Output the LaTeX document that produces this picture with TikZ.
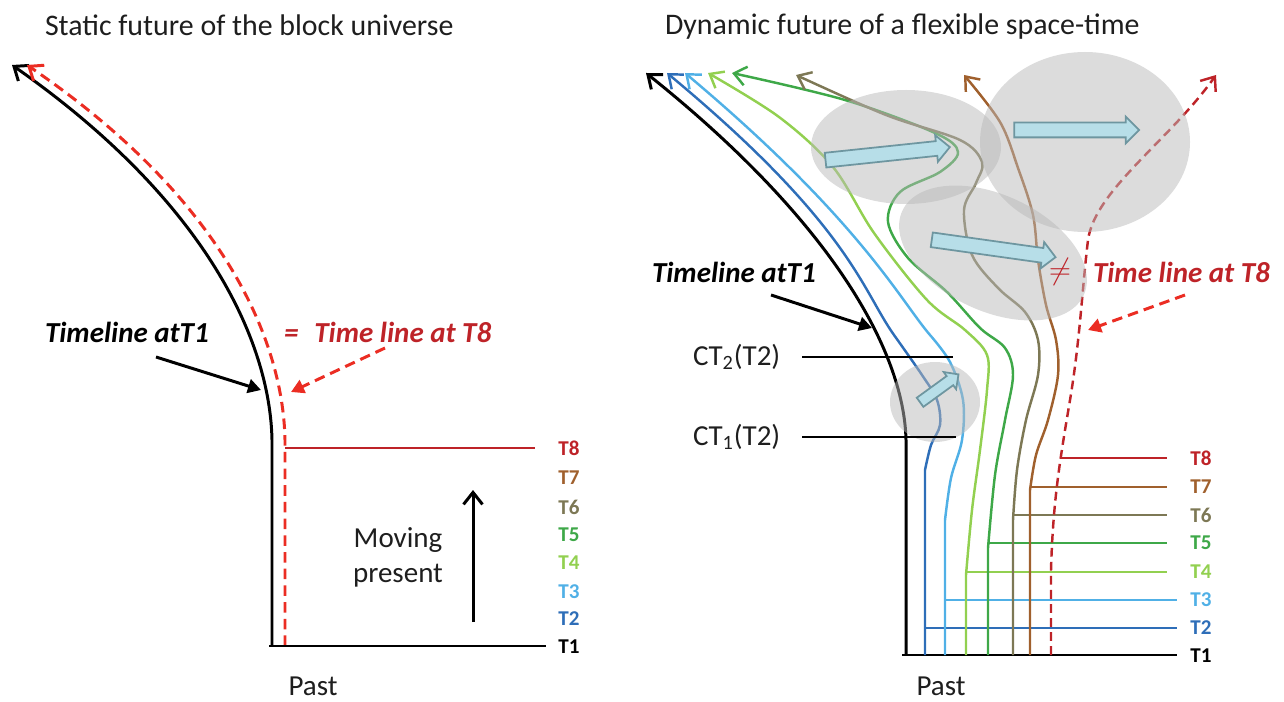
\documentclass[tikz,border=0pt]{standalone}
\usepackage{fontspec}
\setmainfont{Carlito}
\usetikzlibrary{arrows.meta,shapes.arrows}
\definecolor{cB}{RGB}{46,110,184}
\definecolor{cLB}{RGB}{80,176,230}
\definecolor{cLG}{RGB}{146,208,80}
\definecolor{cG}{RGB}{62,168,72}
\definecolor{cO}{RGB}{125,120,85}
\definecolor{cBr}{RGB}{160,96,45}
\definecolor{cR}{RGB}{190,35,40}
\definecolor{cRb}{RGB}{235,45,35}
\definecolor{cTxt}{RGB}{30,30,30}
\definecolor{blkfill}{RGB}{183,222,232}
\definecolor{blkdraw}{RGB}{110,150,160}
\definecolor{grayel}{RGB}{185,185,185}
\newcommand\fttitle{\fontsize{17}{20}\selectfont}
\newcommand\ftlab{\fontsize{16.5}{20}\selectfont\bfseries\itshape}
\newcommand\ftT{\fontsize{12}{14}\selectfont\bfseries}
\newcommand\ftnorm{\fontsize{16.5}{20}\selectfont}
\begin{document}
\begin{tikzpicture}[x=0.02cm,y=-0.02cm,
  every node/.style={inner sep=0pt,outer sep=0pt},
  openhead/.style={-{Straight Barb[length=2.4mm,width=3.8mm]}},
  fillhead/.style={-{Triangle[length=2.6mm,width=2.8mm]}},
  thick1/.style={line width=1.7pt},
  tl/.style={line width=1.4pt},
  lreddash/.style={line width=1.7pt,cRb,dash pattern=on 6pt off 3.5pt},
  rreddash/.style={line width=1.4pt,cR,dash pattern=on 5pt off 3pt},
  tlab/.style={font=\ftT},
  title/.style={font=\fttitle,text=cTxt,anchor=west},
  blab/.style={font=\ftlab,anchor=west},
  gel/.style={fill=grayel,fill opacity=0.5},
  barrow/.style={single arrow,draw=blkdraw,fill=blkfill,line width=1pt,
    single arrow head extend=0.12cm,inner sep=0.13cm,minimum height=2.5cm},
  sm/.style={smooth,tension=0.55}]
\useasboundingbox (0,0) rectangle (1284,702);

% ================= LEFT PANEL =================
\node[title] (ltitle) at (45,25) {Static future of the block universe};

\draw[thick1,openhead] (272,646) -- (272,440) .. controls (270,340) and (205,200) .. (12,65);
\draw[lreddash,openhead] (285,646) -- (285,440) .. controls (283,335) and (218,195) .. (27,65);

\draw[thick1] (269,646) -- (546,646);
\draw[tl,color=cR] (285,448) -- (535,448);

\node[tlab,text=cR]  (lT8) at (569,448) {T8};
\node[tlab,text=cBr] (lT7) at (569,478) {T7};
\node[tlab,text=cO]  (lT6) at (569,507) {T6};
\node[tlab,text=cG]  (lT5) at (569,535) {T5};
\node[tlab,text=cLG] (lT4) at (569,563) {T4};
\node[tlab,text=cLB] (lT3) at (569,592) {T3};
\node[tlab,text=cB]  (lT2) at (569,619) {T2};
\node[tlab,text=black] (lT1) at (569,647) {T1};

\node[font=\ftnorm,align=center,text=cTxt] (lmove) at (398,557) {Moving\\present};
\coordinate (lmvA) at (473,622);
\coordinate (lmvB) at (473,490);
\draw[thick1,openhead] (lmvA) -- (lmvB);

\node[font=\ftnorm,text=cTxt] (lpast) at (313,686) {Past};

\node[blab] (ltl) at (45,332) {Timeline atT1};
\coordinate (ltlA) at (156,357);
\coordinate (ltlB) at (261,390);
\draw[thick1,fillhead] (ltlA) -- (ltlB);

\node[blab,text=cR] (leq) at (284,332) {=\hspace{0.55em}Time line at T8};
\coordinate (leqA) at (385,348);
\coordinate (leqB) at (291,392);
\draw[lreddash,fillhead] (leqA) -- (leqB);

% ================= RIGHT PANEL =================
\node[title] (rtitle) at (665,27) {Dynamic future of a flexible space-time};

% horizontal present lines
\draw[tl,cR]  (1060,458) -- (1167,458);
\draw[tl,cBr] (1030,487) -- (1167,487);
\draw[tl,cO]  (1013,515) -- (1167,515);
\draw[tl,cG]  (988,543) -- (1167,543);
\draw[tl,cLG] (966,572) -- (1167,572);
\draw[tl,cLB] (945,600) -- (1177,600);
\draw[tl,cB]  (925,628) -- (1177,628);
\draw[thick1] (902,655) -- (1177,655);

% time lines
\draw[thick1,openhead] (906,655) -- (906,440) .. controls (904,350) and (830,220) .. (646,73);
\draw[tl,cB,openhead] (925,655) -- plot[sm] coordinates {(925,470) (931,445) (940,425) (937,400) (922,375) (894,335)}
   .. controls (862,290) and (850,225) .. (667,73);
\draw[tl,cLB,openhead] (945,655) -- plot[sm] coordinates {(945,520) (951,478) (962,440) (963,400) (950,362) (930,335)}
   .. controls (900,300) and (860,220) .. (685,73);
\draw[tl,cLG,openhead] (966,655) -- plot[sm] coordinates {(966,575) (972,510) (980,450) (987,390) (987,355) (965,330) (927,300) (874,233) (833,167) (779,117) (708,73)};
\draw[tl,cG,openhead] (988,655) -- plot[sm] coordinates {(988,548) (995,475) (1005,420) (1013,375) (1005,348) (980,328) (947,292) (908,258) (888,222) (900,192) (940,172) (958,152) (935,133) (845,100) (732,73)};
\draw[tl,cO,openhead] (1013,655) -- plot[sm] coordinates {(1013,520) (1017,470) (1026,420) (1038,375) (1038,340) (1025,312) (998,288) (972,255) (964,210) (976,183) (982,162) (960,140) (886,115) (796,75)};
\draw[tl,cBr,openhead] (1030,655) -- plot[sm] coordinates {(1030,490) (1036,455) (1048,420) (1058,375) (1056,340) (1046,305) (1038,260) (1033,215) (1018,168) (1000,122) (964,75)};
\draw[rreddash,openhead] (1051,655) -- (1051,570) .. controls (1053,500) and (1060,460) .. (1070,400)
   .. controls (1080,340) and (1082,290) .. (1088,240) .. controls (1095,190) and (1170,140) .. (1216,75);

% gray regions
\fill[gel] (906,147) ellipse [x radius=95, y radius=57];
\fill[gel] (1085,142) ellipse [x radius=105, y radius=90];
\begin{scope}[shift={(993,253)},rotate=-25]
\fill[gel] (0,0) ellipse [x radius=100, y radius=58];
\end{scope}
\fill[gel] (935,402) ellipse [x radius=45, y radius=40];

% block arrows
\node[barrow,rotate=6] (ba1) at (884,154) {};
\node[barrow,rotate=0] (ba2) at (1073,130) {};
\node[barrow,rotate=-8] (ba3) at (990,248) {};
\node[barrow,rotate=36,inner sep=0.095cm,single arrow head extend=0.1cm,minimum height=0.95cm] (ba4) at (937,390) {};

% CT labels
\node[font=\ftnorm,anchor=west,text=cTxt] (ct2) at (693,357) {CT\textsubscript{2}(T2)};
\node[font=\ftnorm,anchor=west,text=cTxt] (ct1) at (693,437) {CT\textsubscript{1}(T2)};
\coordinate (ct2A) at (802,357);
\coordinate (ct2B) at (953,357);
\coordinate (ct1A) at (802,437);
\coordinate (ct1B) at (956,437);
\draw[line width=1.1pt] (ct2A) -- (ct2B);
\draw[line width=1.1pt] (ct1A) -- (ct1B);

% Timeline labels
\node[blab] (rtl) at (652,272) {Timeline atT1};
\coordinate (rtlA) at (771,295);
\coordinate (rtlB) at (872,328);
\draw[thick1,fillhead] (rtlA) -- (rtlB);

\node[text=cR,font=\fontsize{17}{20}\selectfont] (rneq) at (1060,272) {$\neq$};
\node[blab,text=cR] (rt8) at (1093,272) {Time line at T8};
\coordinate (rt8A) at (1185,295);
\coordinate (rt8B) at (1088,330);
\draw[line width=1.7pt,cRb,dash pattern=on 6pt off 3.5pt,fillhead] (rt8A) -- (rt8B);

% T labels
\node[tlab,text=cR]  (rT8) at (1201,458) {T8};
\node[tlab,text=cBr] (rT7) at (1201,487) {T7};
\node[tlab,text=cO]  (rT6) at (1201,515) {T6};
\node[tlab,text=cG]  (rT5) at (1201,543) {T5};
\node[tlab,text=cLG] (rT4) at (1201,572) {T4};
\node[tlab,text=cLB] (rT3) at (1201,600) {T3};
\node[tlab,text=cB]  (rT2) at (1201,628) {T2};
\node[tlab,text=black] (rT1) at (1201,656) {T1};

\node[font=\ftnorm,text=cTxt] (rpast) at (941,686) {Past};
\end{tikzpicture}
\end{document}
